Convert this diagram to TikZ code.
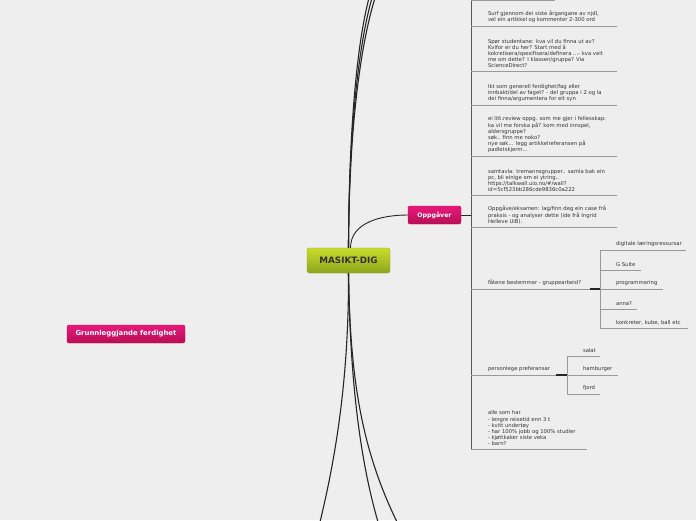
\documentclass[tikz,border=0pt]{standalone}
\usepackage{fontspec}
\setmainfont{DejaVu Sans}
\setsansfont{DejaVu Sans}
\usetikzlibrary{positioning}
\definecolor{bgcol}{HTML}{EEEEEE}
\definecolor{pinktop}{HTML}{E8197A}
\definecolor{pinkbot}{HTML}{B80D55}
\definecolor{greentop}{HTML}{CBDD2E}
\definecolor{greenbot}{HTML}{8CA51B}
\definecolor{leafgray}{HTML}{999999}
\definecolor{textgray}{HTML}{333333}

\begin{document}
\begin{tikzpicture}[x=1pt, y=-1pt,
    root/.style={rounded corners=2.5pt, top color=greentop, bottom color=greenbot, draw=greenbot, minimum width=83pt, minimum height=25pt, inner sep=0, font=\bfseries\fontsize{8.8}{10}\selectfont, text=textgray},
    topic/.style={rounded corners=2pt, top color=pinktop, bottom color=pinkbot, draw=pinkbot, minimum height=18pt, inner sep=0, font=\bfseries\fontsize{6.2}{7}\selectfont, text=white},
    leaf/.style={anchor=south west, inner sep=0, outer xsep=0, outer ysep=3pt, align=left, font=\fontsize{5.3}{6.2}\selectfont, text=textgray},
    branch/.style={draw=black!85, line width=1.1pt},
    trunk/.style={draw=black!65, line width=0.8pt},
    uline/.style={draw=leafgray, line width=0.6pt},
    fork/.style={draw=black!85, line width=1.4pt}
]
\fill[bgcol] (0,0) rectangle (696,520);
\useasboundingbox (0,0) rectangle (696,520);
\clip (0,0) rectangle (696,520);

% Nodes
\node[root] (masikt) at (348.5,260.5) {MASIKT-DIG};
\node[topic, minimum width=53pt] (oppg) at (434.5,215) {Oppgåver};
\node[topic, minimum width=118pt, font=\bfseries\fontsize{6.9}{8}\selectfont] (grunn) at (126,334) {Grunnleggjande ferdighet};

% Off-page branch ends
\coordinate (upA) at (369,-2);
\coordinate (upB) at (372,-2);
\coordinate (upC) at (375,-2);
\coordinate (downA) at (320,522);
\coordinate (downB) at (378,522);
\coordinate (downC) at (397,522);

% Main branches
\draw[branch] (masikt.north) .. controls (349,120) and (358,40) .. (upA);
\draw[branch] (masikt.north) .. controls (349,120) and (360,40) .. (upB);
\draw[branch] (masikt.north) .. controls (349,120) and (362,40) .. (upC);
\draw[branch] (masikt.south) .. controls (349,380) and (335,460) .. (downA);
\draw[branch] (masikt.south) .. controls (350,380) and (360,460) .. (downB);
\draw[branch] (masikt.south) .. controls (350,380) and (362,450) .. (downC);
\draw[branch, line width=0.9pt] ([xshift=2pt]masikt.north) to[out=90, in=180] (oppg.west);

% Trunk under Oppgaver
\coordinate (trunktop) at (471,0);
\coordinate (trunkbot) at (471,449);
\draw[branch, line width=0.9pt] (oppg.east) -- (oppg.east -| trunktop);
\draw[trunk] (trunktop) -- (trunkbot);

% Leaves
\draw[uline] (trunktop) -- ++(84,0);

\node[leaf] (surf) at (488,26) {Surf gjennom dei siste årgangane av njdl,\\vel ein artikkel og kommenter 2-300 ord};
\draw[uline] (trunktop |- surf.south) -- ++(146,0);

\node[leaf] (spor) at (488,71) {Spør studentane: kva vil du finna ut av?\\Kvifor er du her? Start med å\\kokretisera/spesifisera/definera ...- kva veit\\me om dette? I klassen/gruppa? Via\\ScienceDirect?};
\draw[uline] (trunktop |- spor.south) -- ++(146,0);

\node[leaf] (ikt) at (488,105) {Ikt som generell ferdighet/fag eller\\innbakt/del av faget? - del gruppa i 2 og la\\dei finna/argumentera for eit syn};
\draw[uline] (trunktop |- ikt.south) -- ++(146,0);

\node[leaf] (review) at (488,156) {ei litt.review oppg. som me gjer i fellesskap:\\ka vil me forska på? kom med innspel,\\aldersgruppe?\\søk.. finn me noko?\\nye søk... legg artikkelreferansen på\\padletskjerm...};
\draw[uline] (trunktop |- review.south) -- ++(146,0);

\node[leaf] (samtavla) at (488,195) {samtavla: tremannsgrupper.. samla bak ein\\pc, bli einige om ei ytring..\\https://talkwall.uio.no/\#/wall?\\id=5cf523bb286cde9836c0a222};
\draw[uline] (trunktop |- samtavla.south) -- ++(146,0);

\node[leaf] (eksamen) at (488,227) {Oppgåve/eksamen: lag/finn deg ein case frå\\praksis - og analyser dette (ide frå Ingrid\\Helleve UiB).};
\draw[uline] (trunktop |- eksamen.south) -- ++(146,0);

\node[leaf] (fatene) at (488,289) {fåtene bestemmer - gruppearbeid?};
\draw[uline] (trunktop |- fatene.south) -- ++(119,0) coordinate (forkA);
\draw[fork] (forkA) -- ++(10,0) coordinate (forkAend);

\node[leaf] (digitale) at (616,250) {digitale læringsressursar};
\node[leaf] (gsuite) at (616,270) {G Suite};
\node[leaf] (program) at (616,289) {programmering};
\node[leaf] (anna) at (616,309) {anna?};
\node[leaf] (konkret) at (616,328) {konkreter, kube, ball etc};
\draw[uline] (forkAend |- digitale.south) -- (forkAend |- konkret.south);
\draw[uline] (forkAend |- digitale.south) -- ++(86,0);
\draw[uline] (forkAend |- gsuite.south) -- ++(41,0);
\draw[uline] (forkAend |- program.south) -- ++(63,0);
\draw[uline] (forkAend |- anna.south) -- ++(37,0);
\draw[uline] (forkAend |- konkret.south) -- ++(88,0);

\node[leaf] (pref) at (488,375) {personlege preferansar};
\draw[uline] (trunktop |- pref.south) -- ++(85,0) coordinate (forkB);
\draw[fork] (forkB) -- ++(11,0) coordinate (forkBend);

\node[leaf] (salat) at (583,356) {salat};
\node[leaf] (hamburger) at (583,375) {hamburger};
\node[leaf] (fjord) at (583,394) {fjord};
\draw[uline] (forkBend |- salat.south) -- (forkBend |- fjord.south);
\draw[uline] (forkBend |- salat.south) -- ++(33,0);
\draw[uline] (forkBend |- hamburger.south) -- ++(51,0);
\draw[uline] (forkBend |- fjord.south) -- ++(33,0);

\node[leaf] (alle) at (488,449) {alle som har\\- lengre reisetid enn 3 t\\- kvitt undertøy\\- har 100\% jobb og 100\% studier\\- kjøttkaker siste veka\\- barn?};
\draw[uline] (trunktop |- alle.south) -- ++(116,0);

\end{tikzpicture}
\end{document}
